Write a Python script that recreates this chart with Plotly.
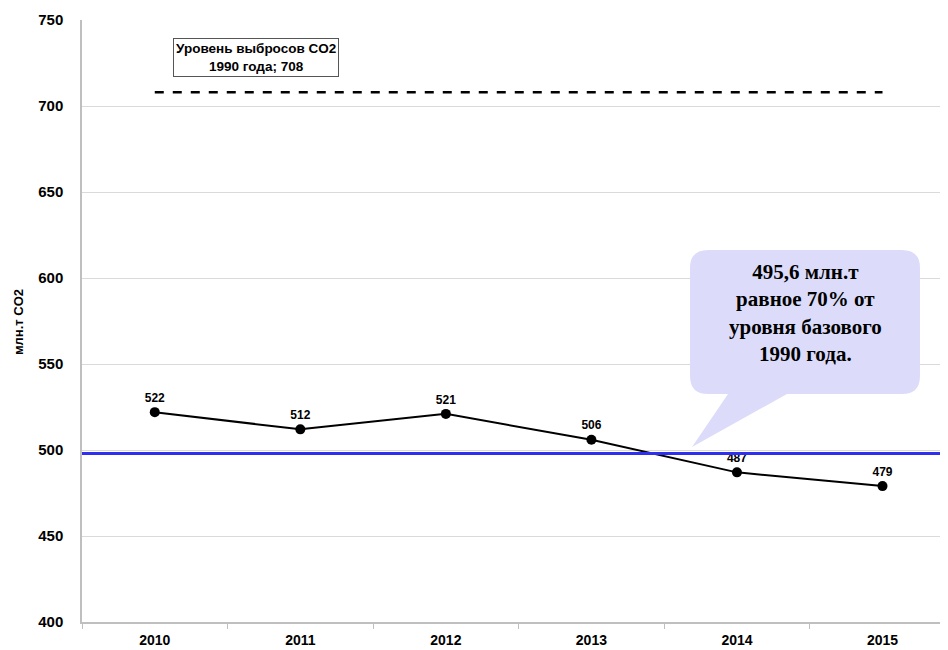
import plotly.graph_objects as go

# данные
years = ['2010', '2011', '2012', '2013', '2014', '2015']
emissions = [522, 512, 521, 506, 487, 479]
level_1990 = 708
target_level = 498
callout_lines = ['495,6 млн.т', 'равное 70% от', 'уровня базового', '1990 года.']

# страница добавляет отступ 8px у body, поэтому фигура чуть меньше окна
OFF = 8
W, H = 948 - OFF, 650 - OFF
L, R, T, B = 82 - OFF, 0, 20 - OFF, 28


def px(x):
    # экранный x -> paper
    return (x - OFF - L) / (W - L - R)


def py(y):
    # экранный y -> paper
    return (H - B - (y - OFF)) / (H - T - B)


fig = go.Figure()

# уровень 1990 года
fig.add_trace(go.Scatter(
    x=years, y=[level_1990] * len(years), mode='lines',
    line=dict(color='black', width=2.5, dash='dash'),
    hoverinfo='skip', showlegend=False,
))

# выбросы
fig.add_trace(go.Scatter(
    x=years, y=emissions, mode='lines+markers+text',
    line=dict(color='black', width=2),
    marker=dict(color='black', size=10),
    text=[f'<b>{v}</b>' for v in emissions], textposition='top center',
    textfont=dict(family='Liberation Sans', size=12, color='black'),
    showlegend=False,
))

# целевая линия 70%
fig.add_shape(type='line', xref='paper', x0=0, x1=1, yref='y',
              y0=target_level, y1=target_level,
              line=dict(color='#2f2ff0', width=3))

# выноска
x0, x1, y0, y1, r = 690, 920, 250, 394, 18
pts = [
    f'M {px(x0 + r)},{py(y0)}',
    f'L {px(x1 - r)},{py(y0)}',
    f'Q {px(x1)},{py(y0)} {px(x1)},{py(y0 + r)}',
    f'L {px(x1)},{py(y1 - r)}',
    f'Q {px(x1)},{py(y1)} {px(x1 - r)},{py(y1)}',
    f'L {px(787)},{py(y1)}',
    f'L {px(692)},{py(447)}',
    f'L {px(728)},{py(y1)}',
    f'L {px(x0 + r)},{py(y1)}',
    f'Q {px(x0)},{py(y1)} {px(x0)},{py(y1 - r)}',
    f'L {px(x0)},{py(y0 + r)}',
    f'Q {px(x0)},{py(y0)} {px(x0 + r)},{py(y0)}',
    'Z',
]
fig.add_shape(type='path', xref='paper', yref='paper', path=' '.join(pts),
              fillcolor='#dcdcfa', line=dict(width=0), layer='above')

fig.add_annotation(
    xref='paper', yref='paper', x=px(805), y=py(313),
    xanchor='center', yanchor='middle',
    text='<br>'.join(f'<b>{s}</b>' for s in callout_lines),
    showarrow=False, align='center',
    font=dict(family='Liberation Serif', size=21, color='black'),
)

fig.add_annotation(
    xref='paper', yref='paper', x=px(256), y=py(57),
    xanchor='center', yanchor='middle',
    text='<b>Уровень выбросов CO2</b><br><b>1990 года; 708</b>',
    showarrow=False, align='center',
    font=dict(family='Liberation Sans', size=13.5, color='black'),
    bgcolor='white', bordercolor='#555555', borderwidth=1, borderpad=2,
)

# подпись оси Y
fig.add_annotation(
    xref='paper', yref='paper', x=px(18), y=py(322),
    xanchor='center', yanchor='middle',
    text='<b>млн.т CO2</b>', textangle=-90, showarrow=False,
    font=dict(family='Liberation Sans', size=13, color='black'),
)

fig.update_layout(
    width=W, height=H,
    margin=dict(l=L, r=R, t=T, b=B, autoexpand=False),
    paper_bgcolor='white', plot_bgcolor='white',
    font=dict(family='Liberation Sans', color='black'),
    xaxis=dict(
        type='category', range=[-0.5, 5.45], automargin=False,
        tickson='boundaries', ticks='outside', ticklen=5, tickcolor='#bfbfbf',
        showline=True, linecolor='#bfbfbf', linewidth=1.5,
        showgrid=False, tickfont=dict(size=14, family='Liberation Sans'),
        ticklabelstandoff=4,
        tickprefix='<b>', ticksuffix='</b>',
    ),
    yaxis=dict(
        range=[400, 750], dtick=50, automargin=False,
        showgrid=True, gridcolor='#dadada', gridwidth=1,
        showline=True, linecolor='#bfbfbf', linewidth=1.5,
        ticks='', ticklabelstandoff=14,
        tickfont=dict(size=15, family='Liberation Sans'),
        tickprefix='<b>', ticksuffix='</b>',
        zeroline=False,
    ),
)

fig.write_html('out.html')
